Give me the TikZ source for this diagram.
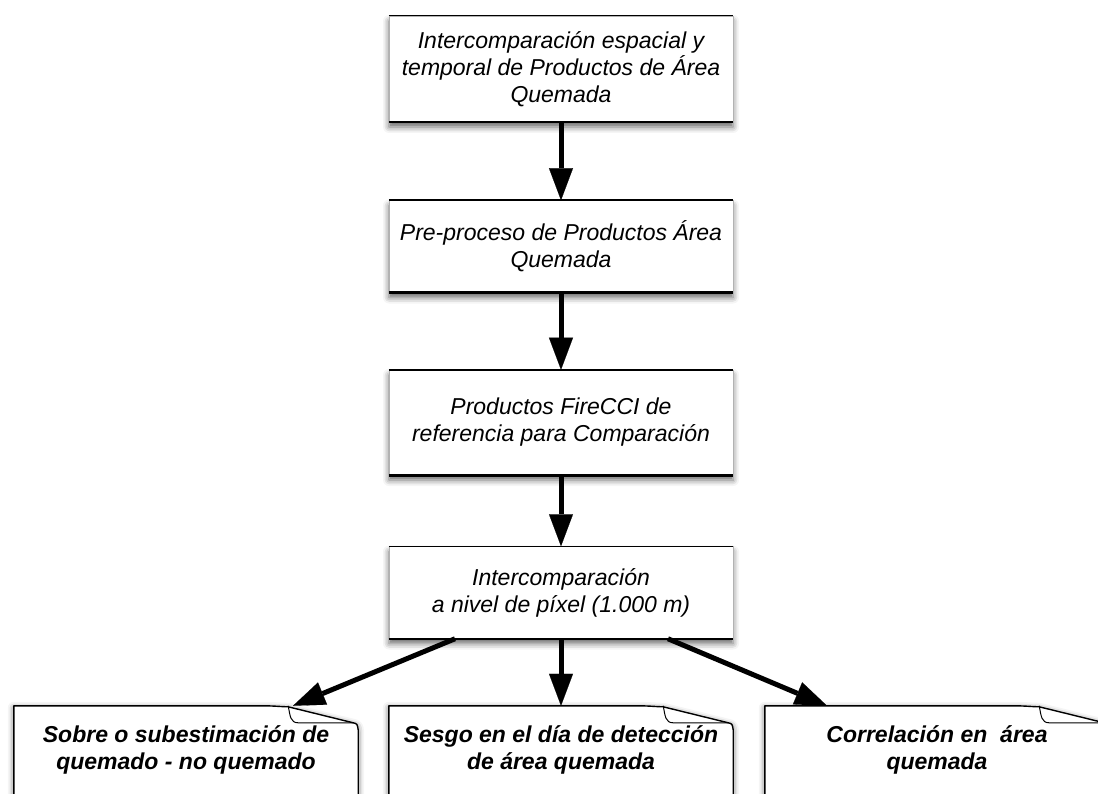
\documentclass[tikz,border=0pt]{standalone}
\usepackage{fontspec}
\setmainfont{Liberation Sans}
\usetikzlibrary{positioning,arrows.meta,shadows.blur}

\tikzset{
  stepbox/.style={rectangle, draw=gray!60, line width=0.5pt, fill=white,
    minimum width=344pt, align=center,
    font=\itshape\fontsize{23}{27}\selectfont,
    blur shadow={shadow xshift=0pt, shadow yshift=-5pt,
      shadow blur radius=6pt, shadow opacity=60}},
  resultbox/.style={rectangle, minimum width=344pt, minimum height=88pt,
    align=center, font=\bfseries\itshape\fontsize{23}{27}\selectfont},
  docline/.style={line width=1.4pt, line join=round, fill=white,
    blur shadow={shadow xshift=0pt, shadow yshift=-2pt,
      shadow blur radius=6pt, shadow opacity=60}},
  flow/.style={line width=5pt, draw=black, opacity=1,
    -{Triangle[length=32pt,width=24pt,line width=0.1pt,fill=black,color=black]}}
}

\begin{document}
\begin{tikzpicture}[x=1pt,y=-1pt]
 \useasboundingbox (0,0) rectangle (1098,794);
 \clip (0,0) rectangle (1098,794);
 % main column
 \node[stepbox, minimum height=106pt] (b1) at (561,69)
   {Intercomparación espacial y\\temporal de Productos de Área\\Quemada};
 \node[stepbox, minimum height=92pt, below=78pt of b1] (b2)
   {Pre-proceso de Productos Área\\Quemada};
 \node[stepbox, minimum height=105pt, below=77pt of b2] (b3)
   {Productos FireCCI de\\referencia para Comparación};
 \node[stepbox, minimum height=92pt, below=71pt of b3] (b4)
   {Intercomparación\\a nivel de píxel (1.000 m)};
 \foreach \b in {b1,b2,b3,b4} {
   \draw[line width=1.5pt] (\b.north west) -- (\b.north east);
   \draw[line width=2.5pt] (\b.south west) -- (\b.south east);
 }
 % result sheets
 \node[resultbox] (d1) at (186,750) {};
 \node[resultbox] (d2) at (561,750) {};
 \node[resultbox] (d3) at (937,750) {};
 \foreach \d in {d1,d2,d3} {
   \draw[docline] ([yshift=-10pt]\d.south west) -- (\d.north west)
     -- ([xshift=-96pt]\d.north east)
     .. controls ([xshift=-84pt]\d.north east) and ([shift={(-76,1)}]\d.north east)
     .. ([shift={(-70,1)}]\d.north east)
     -- ([shift={(-5,17)}]\d.north east)
     .. controls ([shift={(-1,18)}]\d.north east) .. ([shift={(0,24)}]\d.north east)
     -- ([yshift=-10pt]\d.south east);
   \draw[line width=1pt] ([xshift=-70pt]\d.north east)
     .. controls ([shift={(-68,10)}]\d.north east) and ([shift={(-68,17)}]\d.north east)
     .. ([shift={(-60,17)}]\d.north east) -- ([shift={(-5,17)}]\d.north east);
 }
 \node[resultbox] at (d1) {Sobre o subestimación de\\quemado - no quemado};
 \node[resultbox] at (d2) {Sesgo en el día de detección\\de área quemada};
 \node[resultbox] at (d3) {Correlación en\ \ área\\quemada};
 % arrows
 \draw[flow] (b1) -- (b2);
 \draw[flow] (b2) -- (b3);
 \draw[flow] (b3) -- (b4);
 \draw[flow] ([xshift=-106pt]b4.south) -- ([xshift=107pt]d1.north);
 \draw[flow] (b4) -- (d2);
 \draw[flow] ([xshift=107pt]b4.south) -- ([xshift=-110pt]d3.north);
\end{tikzpicture}
\end{document}
